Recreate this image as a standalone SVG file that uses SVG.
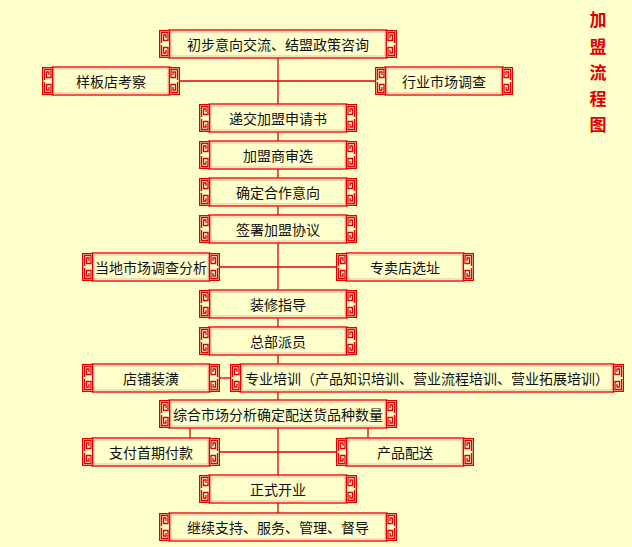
<svg xmlns="http://www.w3.org/2000/svg" xmlns:xlink="http://www.w3.org/1999/xlink" width="632" height="547" viewBox="0 0 632 547">
<style>
.bg{fill:#FFFFCC}
.frame{fill:#FFFFCC;stroke:#E00000;stroke-width:1.3}
.inner{fill:none;stroke:#F2A8A0;stroke-width:0.8}
.orn{fill:#FFFFCC;stroke:#E00000;stroke-width:1.3;stroke-linejoin:miter}
.lbl{font-family:"Noto Sans CJK SC","Noto Sans",sans-serif;font-size:14px;fill:#111;text-anchor:middle;dominant-baseline:central}
.title{font-family:"Noto Sans CJK SC",sans-serif;font-size:17px;font-weight:700;fill:#E00000;text-anchor:middle;dominant-baseline:central}
.conn line{stroke:#E00000;stroke-width:1.3}
</style>
<defs>
<g id="orn">
<rect class="orn" x="0.65" y="0.65" width="10" height="26.7"/>
<path class="orn" d="M2.5,13 V2.5 H9 V10.5 H4.5 V5 H7 V8"/>
<path class="orn" d="M2.5,15 V25.5 H9 V17.5 H4.5 V23 H7 V20"/>
</g>
</defs>
<rect class="bg" x="0" y="0" width="632" height="547"/>

<g id="connectors" class="conn">
<line x1="278" y1="58" x2="278" y2="104"/>
<line x1="180" y1="81" x2="375" y2="81"/>
<line x1="278" y1="132" x2="278" y2="141"/>
<line x1="278" y1="169" x2="278" y2="178"/>
<line x1="278" y1="206" x2="278" y2="215"/>
<line x1="278" y1="243" x2="278" y2="290"/>
<line x1="220" y1="267" x2="336" y2="267"/>
<line x1="278" y1="318" x2="278" y2="327"/>
<line x1="278" y1="355" x2="278" y2="364"/>
<line x1="220" y1="378" x2="230" y2="378"/>
<line x1="278" y1="392" x2="278" y2="400"/>
<line x1="278" y1="428" x2="278" y2="475"/>
<line x1="190" y1="428" x2="190" y2="438"/>
<line x1="368" y1="428" x2="368" y2="438"/>
<line x1="220" y1="452" x2="336" y2="452"/>
<line x1="278" y1="503" x2="278" y2="513"/>
</g>

<g id="n1"><rect class="frame" x="169" y="30" width="218" height="28"/><rect class="inner" x="171" y="32" width="214" height="24"/><use xlink:href="#orn" x="159" y="30"/><use xlink:href="#orn" transform="translate(397,30) scale(-1,1)"/><text class="lbl" x="278" y="44">初步意向交流、结盟政策咨询</text></g>

<g id="n2"><rect class="frame" x="52" y="67" width="118" height="28"/><rect class="inner" x="54" y="69" width="114" height="24"/><use xlink:href="#orn" x="42" y="67"/><use xlink:href="#orn" transform="translate(180,67) scale(-1,1)"/><text class="lbl" x="111" y="81">样板店考察</text></g>

<g id="n3"><rect class="frame" x="385" y="67" width="118" height="28"/><rect class="inner" x="387" y="69" width="114" height="24"/><use xlink:href="#orn" x="375" y="67"/><use xlink:href="#orn" transform="translate(513,67) scale(-1,1)"/><text class="lbl" x="444" y="81">行业市场调查</text></g>

<g id="n4"><rect class="frame" x="209" y="104" width="138" height="28"/><rect class="inner" x="211" y="106" width="134" height="24"/><use xlink:href="#orn" x="199" y="104"/><use xlink:href="#orn" transform="translate(357,104) scale(-1,1)"/><text class="lbl" x="278" y="118">递交加盟申请书</text></g>

<g id="n5"><rect class="frame" x="209" y="141" width="138" height="28"/><rect class="inner" x="211" y="143" width="134" height="24"/><use xlink:href="#orn" x="199" y="141"/><use xlink:href="#orn" transform="translate(357,141) scale(-1,1)"/><text class="lbl" x="278" y="155">加盟商审选</text></g>

<g id="n6"><rect class="frame" x="209" y="178" width="138" height="28"/><rect class="inner" x="211" y="180" width="134" height="24"/><use xlink:href="#orn" x="199" y="178"/><use xlink:href="#orn" transform="translate(357,178) scale(-1,1)"/><text class="lbl" x="278" y="192">确定合作意向</text></g>

<g id="n7"><rect class="frame" x="209" y="215" width="138" height="28"/><rect class="inner" x="211" y="217" width="134" height="24"/><use xlink:href="#orn" x="199" y="215"/><use xlink:href="#orn" transform="translate(357,215) scale(-1,1)"/><text class="lbl" x="278" y="229">签署加盟协议</text></g>

<g id="n8"><rect class="frame" x="92" y="253" width="118" height="28"/><rect class="inner" x="94" y="255" width="114" height="24"/><use xlink:href="#orn" x="82" y="253"/><use xlink:href="#orn" transform="translate(220,253) scale(-1,1)"/><text class="lbl" x="151" y="267">当地市场调查分析</text></g>

<g id="n9"><rect class="frame" x="346" y="253" width="118" height="28"/><rect class="inner" x="348" y="255" width="114" height="24"/><use xlink:href="#orn" x="336" y="253"/><use xlink:href="#orn" transform="translate(474,253) scale(-1,1)"/><text class="lbl" x="405" y="267">专卖店选址</text></g>

<g id="n10"><rect class="frame" x="209" y="290" width="138" height="28"/><rect class="inner" x="211" y="292" width="134" height="24"/><use xlink:href="#orn" x="199" y="290"/><use xlink:href="#orn" transform="translate(357,290) scale(-1,1)"/><text class="lbl" x="278" y="304">装修指导</text></g>

<g id="n11"><rect class="frame" x="209" y="327" width="138" height="28"/><rect class="inner" x="211" y="329" width="134" height="24"/><use xlink:href="#orn" x="199" y="327"/><use xlink:href="#orn" transform="translate(357,327) scale(-1,1)"/><text class="lbl" x="278" y="341">总部派员</text></g>

<g id="n12"><rect class="frame" x="92" y="364" width="118" height="28"/><rect class="inner" x="94" y="366" width="114" height="24"/><use xlink:href="#orn" x="82" y="364"/><use xlink:href="#orn" transform="translate(220,364) scale(-1,1)"/><text class="lbl" x="151" y="378">店铺装潢</text></g>

<g id="n13"><rect class="frame" x="240" y="364" width="374" height="28"/><rect class="inner" x="242" y="366" width="370" height="24"/><use xlink:href="#orn" x="230" y="364"/><use xlink:href="#orn" transform="translate(624,364) scale(-1,1)"/><text class="lbl" x="427" y="378">专业培训（产品知识培训、营业流程培训、营业拓展培训）</text></g>

<g id="n14"><rect class="frame" x="169" y="400" width="218" height="28"/><rect class="inner" x="171" y="402" width="214" height="24"/><use xlink:href="#orn" x="159" y="400"/><use xlink:href="#orn" transform="translate(397,400) scale(-1,1)"/><text class="lbl" x="278" y="414">综合市场分析确定配送货品种数量</text></g>

<g id="n15"><rect class="frame" x="92" y="438" width="118" height="28"/><rect class="inner" x="94" y="440" width="114" height="24"/><use xlink:href="#orn" x="82" y="438"/><use xlink:href="#orn" transform="translate(220,438) scale(-1,1)"/><text class="lbl" x="151" y="452">支付首期付款</text></g>

<g id="n16"><rect class="frame" x="346" y="438" width="118" height="28"/><rect class="inner" x="348" y="440" width="114" height="24"/><use xlink:href="#orn" x="336" y="438"/><use xlink:href="#orn" transform="translate(474,438) scale(-1,1)"/><text class="lbl" x="405" y="452">产品配送</text></g>

<g id="n17"><rect class="frame" x="209" y="475" width="138" height="28"/><rect class="inner" x="211" y="477" width="134" height="24"/><use xlink:href="#orn" x="199" y="475"/><use xlink:href="#orn" transform="translate(357,475) scale(-1,1)"/><text class="lbl" x="278" y="489">正式开业</text></g>

<g id="n18"><rect class="frame" x="169" y="513" width="218" height="28"/><rect class="inner" x="171" y="515" width="214" height="24"/><use xlink:href="#orn" x="159" y="513"/><use xlink:href="#orn" transform="translate(397,513) scale(-1,1)"/><text class="lbl" x="278" y="527">继续支持、服务、管理、督导</text></g>

<g id="title">
<text class="title" x="598" y="18">加</text>
<text class="title" x="598" y="45">盟</text>
<text class="title" x="598" y="71">流</text>
<text class="title" x="598" y="97">程</text>
<text class="title" x="598" y="123">图</text>
</g>
</svg>
